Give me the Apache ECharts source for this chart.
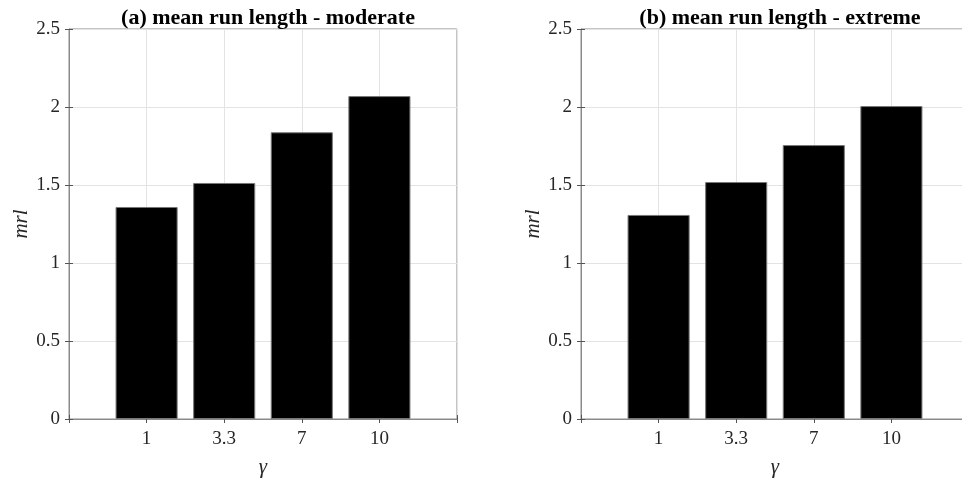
<!DOCTYPE html>
<html lang="en">
<head>
    <meta charset="UTF-8">
    <title>mean run length</title>
    <script src="https://cdn.jsdelivr.net/npm/echarts@6.0.0/dist/echarts.min.js"></script>
    <style>
        body { margin: 0; background: #fff; }
    </style>
</head>
<body>
    <div id="main" style="width: 962px;height:479px;"></div>
    <script type="text/javascript">
        // gamma values shown under the bars (bars sit at x = 1..4)
        const gammaLabels = ['1', '3.3', '7', '10'];
        const moderateMrl = [1.359, 1.513, 1.838, 2.07];
        const extremeMrl = [1.308, 1.519, 1.756, 2.006];
        const titles = ['(a) mean run length - moderate', '(b) mean run length - extreme'];
        const yTicks = [0, 0.5, 1, 1.5, 2, 2.5];

        const font = '"Liberation Serif", "DejaVu Serif", serif';
        const gridLefts = [69, 581];

        function toPoints(vals) {
            return vals.map((v, i) => [i + 1, v]);
        }

        let grids = [], xAxes = [], yAxes = [], series = [], titleOpts = [];
        [moderateMrl, extremeMrl].forEach((vals, k) => {
            grids.push({
                left: gridLefts[k], top: 29, width: 388, height: 390,
                outerBoundsMode: 'none', containLabel: false,
                show: true, borderColor: '#8a8a8a', borderWidth: 1
            });
            titleOpts.push({
                text: titles[k], left: gridLefts[k] + 194, top: 2, textAlign: 'center',
                textStyle: { fontFamily: font, fontSize: 22, fontWeight: 'bold', color: '#000' }
            });
            // bottom x axis
            xAxes.push({
                type: 'value', gridIndex: k, min: 0, max: 5, interval: 1,
                name: 'γ', nameLocation: 'middle', nameGap: 38,
                nameTextStyle: { fontFamily: font, fontSize: 21, fontStyle: 'italic', color: '#262626' },
                axisLine: { show: true, lineStyle: { color: '#8a8a8a' } },
                axisTick: { show: true, inside: true, length: 4, lineStyle: { color: '#555' } },
                axisLabel: {
                    fontFamily: font, fontSize: 19, color: '#262626', margin: 11,
                    formatter: (v) => gammaLabels[v - 1] || ''
                },
                splitLine: { show: true, lineStyle: { color: '#e3e3e3' } }
            });
            // top mirror axis for the ticks
            xAxes.push({
                type: 'value', gridIndex: k, position: 'top', min: 0, max: 5, interval: 1,
                axisLine: { show: false }, axisLabel: { show: false }, splitLine: { show: false },
                axisTick: { show: true, inside: true, length: 4, lineStyle: { color: '#555' } }
            });
            yAxes.push({
                type: 'value', gridIndex: k, min: 0, max: 2.5, interval: 0.5,
                name: 'mrl', nameLocation: 'middle', nameGap: 36,
                nameTextStyle: { fontFamily: font, fontSize: 21, fontStyle: 'italic', color: '#262626' },
                axisLine: { show: true, lineStyle: { color: '#8a8a8a' } },
                axisTick: { show: true, inside: true, length: 4, lineStyle: { color: '#555' } },
                axisLabel: {
                    fontFamily: font, fontSize: 19, color: '#262626', margin: 9,
                    formatter: (v) => yTicks.indexOf(v) >= 0 ? String(v) : ''
                },
                splitLine: { show: true, lineStyle: { color: '#e3e3e3' } }
            });
            yAxes.push({
                type: 'value', gridIndex: k, position: 'right', min: 0, max: 2.5, interval: 0.5,
                axisLine: { show: false }, axisLabel: { show: false }, splitLine: { show: false },
                axisTick: { show: true, inside: true, length: 4, lineStyle: { color: '#555' } }
            });
            series.push({
                type: 'bar', xAxisIndex: k * 2, yAxisIndex: k * 2,
                data: toPoints(vals), barWidth: '80%',
                itemStyle: { color: '#000', borderColor: '#777', borderWidth: 1 }
            });
        });

        let myChart = echarts.init(document.getElementById('main'));
        myChart.setOption({
            animation: false,
            title: titleOpts,
            grid: grids,
            xAxis: xAxes,
            yAxis: yAxes,
            series: series
        });
    </script>
</body>
</html>
